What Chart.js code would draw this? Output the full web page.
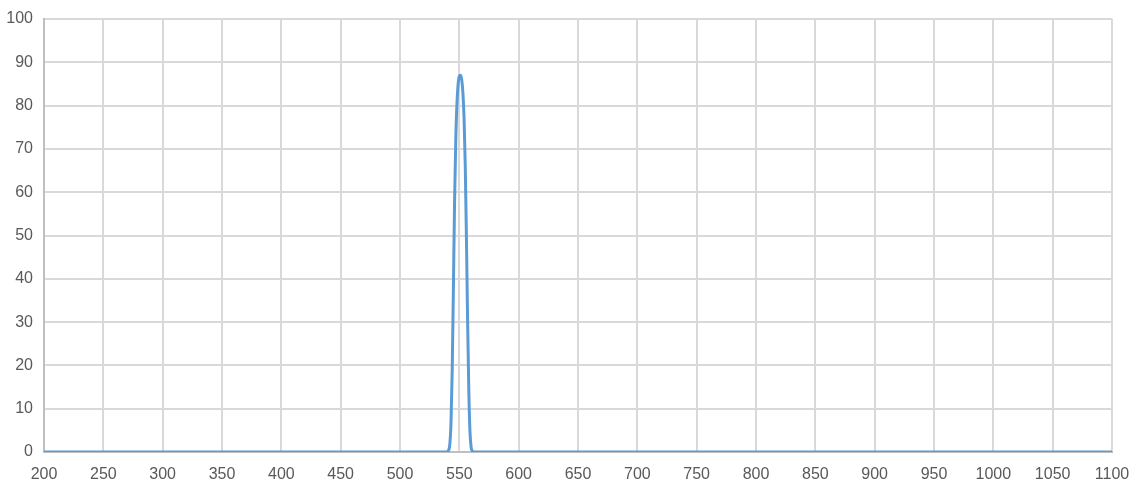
<!DOCTYPE html>
<html lang="en">
<head>
  <meta charset="UTF-8">
  <title>Transmission</title>
  <script src="https://cdn.jsdelivr.net/npm/chart.js"></script>
  <style>
    body {
      margin: 0;
      padding: 0;
      background: #ffffff;
    }
    #wrap {
      width: 1132px;
      height: 484px;
    }
  </style>
</head>
<body>
  <div id="wrap"><canvas id="chart" width="1132" height="484"></canvas></div>
  <script>
    // values (nm -> %)
    const wavelengths = [200, 520, 535, 539, 540, 541, 542, 543, 544, 545, 546, 547, 548, 549, 550, 551, 552, 553, 554, 555, 556, 557, 558, 559, 560, 561, 562, 566, 580, 1100];
    const transmission = [0, 0, 0, 0, 0.1, 0.4, 1.8, 7, 19, 38, 58, 72, 80.5, 85, 86.8, 87, 86, 83, 77, 66, 49, 30, 14, 4.5, 1, 0.2, 0, 0, 0, 0];
    const xTicks = [200, 250, 300, 350, 400, 450, 500, 550, 600, 650, 700, 750, 800, 850, 900, 950, 1000, 1050, 1100];
    const yTicks = [0, 10, 20, 30, 40, 50, 60, 70, 80, 90, 100];

    const points = wavelengths.map((w, i) => ({ x: w, y: transmission[i] }));
    const labelFont = { family: 'Liberation Sans, Arial, sans-serif', size: 16 };

    new Chart(document.getElementById('chart').getContext('2d'), {
      type: 'line',
      data: {
        datasets: [{
          data: points,
          borderColor: '#5b9bd5',
          borderWidth: 3,
          pointRadius: 0,
          fill: false,
          cubicInterpolationMode: 'monotone'
        }]
      },
      options: {
        responsive: false,
        devicePixelRatio: 1,
        animation: false,
        layout: { padding: { left: 0, top: 19, right: 20, bottom: 0 } },
        plugins: { legend: { display: false }, tooltip: { enabled: false } },
        scales: {
          x: {
            type: 'linear',
            min: xTicks[0],
            max: xTicks[xTicks.length - 1],
            afterBuildTicks: axis => { axis.ticks = xTicks.map(v => ({ value: v })); },
            afterFit: axis => {
              axis.height = 32;
              axis.paddingLeft = 0;
              axis.paddingRight = 0;
            },
            grid: { color: '#d9d9d9', lineWidth: 2, drawTicks: false },
            border: { color: '#bfbfbf', width: 2 },
            ticks: {
              color: '#595959', font: labelFont, padding: 13, maxRotation: 0, autoSkip: false,
              callback: v => String(v)
            }
          },
          y: {
            min: 0,
            max: 100,
            afterBuildTicks: axis => { axis.ticks = yTicks.map(v => ({ value: v })); },
            afterFit: axis => {
              axis.width = 44;
              axis.paddingTop = 0;
              axis.paddingBottom = 0;
            },
            grid: { color: '#d9d9d9', lineWidth: 2, drawTicks: false },
            border: { color: '#bfbfbf', width: 2 },
            ticks: { color: '#595959', font: labelFont, padding: 11, callback: v => String(v) }
          }
        }
      }
    });
  </script>
</body>
</html>
